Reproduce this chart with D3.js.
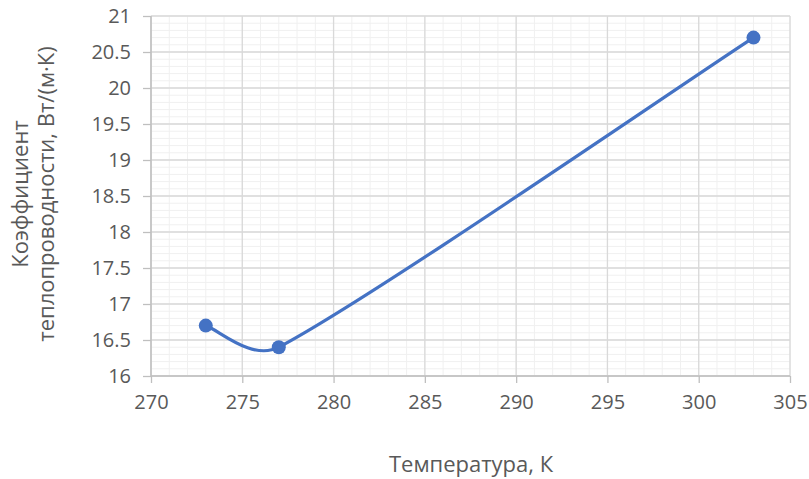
<!DOCTYPE html>
<html>
<head>
<meta charset="utf-8">
<script src="https://cdn.jsdelivr.net/npm/d3@7"></script>
<style>
  html, body { margin: 0; padding: 0; background: #fff; }
  svg text { font-family: "Open Sans", "Liberation Sans", sans-serif; fill: #595959; }
</style>
</head>
<body>
<svg id="chart" width="809" height="479"></svg>
<script>
const temperature = [273, 277, 303];
const conductivity = [16.7, 16.4, 20.7];
const xTicks = [270, 275, 280, 285, 290, 295, 300, 305];
const yTicks = [16, 16.5, 17, 17.5, 18, 18.5, 19, 19.5, 20, 20.5, 21];
const xTitle = "Температура, К";
const yTitleLines = ["Коэффициент", "теплопроводности, Вт/(м·К)"];

const svg = d3.select("#chart");
const pLeft = 151, pRight = 790, pTop = 16, pBottom = 376;

const x = d3.scaleLinear().domain([270, 305]).range([pLeft, pRight]);
const y = d3.scaleLinear().domain([16, 21]).range([pBottom, pTop]);

// minor grid
const minorX = d3.range(270, 305.001, 1);
const minorY = d3.range(160, 210.001, 1).map(v => v / 10);
const grid = svg.append("g");
grid.selectAll("line.mx").data(minorX).join("line")
  .attr("x1", d => x(d)).attr("x2", d => x(d)).attr("y1", pTop).attr("y2", pBottom)
  .attr("stroke", "#f0f0f0").attr("stroke-width", 1);
grid.selectAll("line.my").data(minorY).join("line")
  .attr("x1", pLeft).attr("x2", pRight).attr("y1", d => y(d)).attr("y2", d => y(d))
  .attr("stroke", "#f0f0f0").attr("stroke-width", 1);
// major grid
grid.selectAll("line.Mx").data(xTicks).join("line")
  .attr("x1", d => x(d)).attr("x2", d => x(d)).attr("y1", pTop).attr("y2", pBottom)
  .attr("stroke", "#d9d9d9").attr("stroke-width", 1.3);
grid.selectAll("line.My").data(yTicks).join("line")
  .attr("x1", pLeft).attr("x2", pRight).attr("y1", d => y(d)).attr("y2", d => y(d))
  .attr("stroke", "#d9d9d9").attr("stroke-width", 1.3);

// axes
const xAxis = d3.axisBottom(x).tickValues(xTicks).tickSize(7).tickPadding(12).tickFormat(d3.format("d"));
const yAxis = d3.axisLeft(y).tickValues(yTicks).tickSize(8).tickPadding(12).tickFormat(d => String(d));

const gx = svg.append("g").attr("transform", `translate(0,${pBottom})`).call(xAxis);
const gy = svg.append("g").attr("transform", `translate(${pLeft},0)`).call(yAxis);
[gx, gy].forEach(g => {
  g.select(".domain").attr("stroke", "#bfbfbf").attr("stroke-width", 1.5);
  g.selectAll(".tick line").attr("stroke", "#bfbfbf").attr("stroke-width", 1.3);
  g.selectAll(".tick text").style("font-size", "20px").attr("fill", "#595959")
    .style("font-family", "'Open Sans', sans-serif");
});
gx.select(".domain").attr("d", `M${pLeft},0H${pRight}`);
gy.select(".domain").attr("d", `M0,${pTop}V${pBottom}`);

// smoothed line (Excel-like Bezier smoothing)
const pts = temperature.map((t, i) => [x(t), y(conductivity[i])]);
function smoothPath(p) {
  const path = d3.path();
  path.moveTo(p[0][0], p[0][1]);
  const n = p.length;
  for (let i = 0; i < n - 1; i++) {
    const a = p[i], b = p[i + 1];
    const prev = p[Math.max(i - 1, 0)], next = p[Math.min(i + 2, n - 1)];
    const seg = Math.hypot(b[0] - a[0], b[1] - a[1]);
    let t1 = [(b[0] - prev[0]) / 6, (b[1] - prev[1]) / 6];
    let t2 = [(next[0] - a[0]) / 6, (next[1] - a[1]) / 6];
    const l1 = Math.hypot(t1[0], t1[1]), l2 = Math.hypot(t2[0], t2[1]);
    const cap = seg * 0.4;
    if (l1 > cap) t1 = [t1[0] * cap / l1, t1[1] * cap / l1];
    if (l2 > cap) t2 = [t2[0] * cap / l2, t2[1] * cap / l2];
    path.bezierCurveTo(a[0] + t1[0], a[1] + t1[1], b[0] - t2[0], b[1] - t2[1], b[0], b[1]);
  }
  return path.toString();
}
svg.append("path").attr("d", smoothPath(pts))
  .attr("fill", "none").attr("stroke", "#4472c4").attr("stroke-width", 3.2)
  .attr("stroke-linecap", "round");
svg.selectAll("circle.pt").data(temperature).join("circle")
  .attr("cx", d => x(d)).attr("cy", (d, i) => y(conductivity[i])).attr("r", 7)
  .attr("fill", "#4472c4");

// titles
svg.append("text").attr("x", 471).attr("y", 472).attr("text-anchor", "middle")
  .style("font-size", "22px").text(xTitle);
const yt = svg.append("text").attr("transform", "translate(0,194) rotate(-90)")
  .attr("text-anchor", "middle").style("font-size", "22px");
yt.append("tspan").attr("x", 0).attr("y", 28).text(yTitleLines[0]);
yt.append("tspan").attr("x", 0).attr("y", 54).text(yTitleLines[1]);
</script>
</body>
</html>
